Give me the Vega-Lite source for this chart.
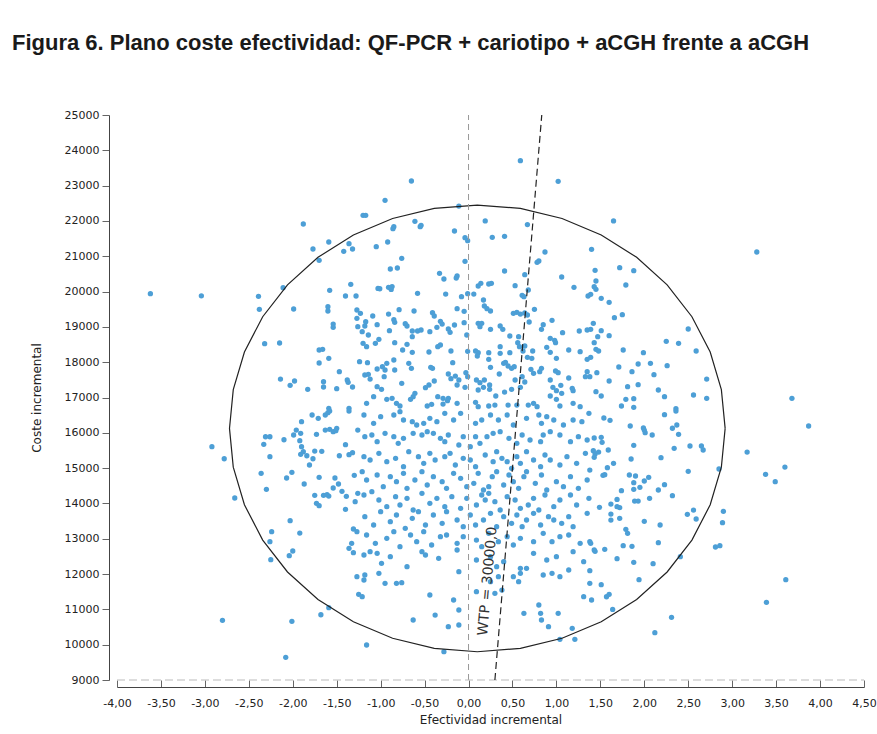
{
  "$schema": "https://vega.github.io/schema/vega-lite/v6.json",
  "width": 747,
  "height": 565,
  "autosize": {"type": "none"},
  "padding": {"left": 117, "top": 115, "right": 13, "bottom": 54},
  "background": "white",
  "title": {
    "text": "Figura 6. Plano coste efectividad: QF-PCR + cariotipo + aCGH frente a aCGH",
    "anchor": "start",
    "frame": "group",
    "dx": -105,
    "offset": 37,
    "baseline": "alphabetic",
    "font": "Liberation Sans",
    "fontSize": 22,
    "fontWeight": "bold",
    "color": "#1a1a1a"
  },
  "config": {
    "view": {"stroke": null},
    "axis": {"labelFont": "DejaVu Sans", "titleFont": "DejaVu Sans", "labelColor": "#222", "titleColor": "#222", "titleFontWeight": "normal", "domainColor": "#444", "tickColor": "#666", "grid": false}
  },
  "datasets": {
    "pts": [
{"e":-3.62,"c":19940},{"e":-3.04,"c":19880},{"e":-2.39,"c":19866},{"e":-2.38,"c":19497},{"e":-2.11,"c":20110},{"e":-1.88,"c":21913},{"e":-1.77,"c":21205},{"e":-1.70,"c":20885},{"e":-1.59,"c":21403},{"e":-1.42,"c":21140},{"e":-1.36,"c":21355},{"e":-1.32,"c":21205},{"e":-1.99,"c":19506},{"e":-1.58,"c":20035},{"e":-1.40,"c":19874},{"e":-1.34,"c":20205},{"e":-1.28,"c":19874},{"e":-1.60,"c":19571},{"e":-1.60,"c":19449},{"e":-1.27,"c":19478},{"e":-1.27,"c":19243},{"e":-1.26,"c":19005},{"e":-1.54,"c":19080},{"e":-1.54,"c":18988},{"e":-2.32,"c":18523},{"e":-2.15,"c":18543},{"e":-1.70,"c":18345},{"e":-1.66,"c":18365},{"e":-1.59,"c":18110},{"e":-1.70,"c":17977},{"e":-1.24,"c":18013},{"e":-1.47,"c":17730},{"e":-2.14,"c":17523},{"e":-1.98,"c":17467},{"e":-2.03,"c":17345},{"e":-1.83,"c":17232},{"e":-1.65,"c":17447},{"e":-1.65,"c":17297},{"e":-1.50,"c":17249},{"e":-1.38,"c":17495},{"e":-1.37,"c":17430},{"e":-1.32,"c":17297},{"e":-1.59,"c":16694},{"e":-1.36,"c":16694},
{"e":0.59,"c":23706},{"e":1.02,"c":23122},{"e":-0.65,"c":23131},{"e":-0.95,"c":22584},{"e":-1.20,"c":22160},{"e":-1.17,"c":22160},{"e":-0.11,"c":22420},{"e":-0.61,"c":21990},{"e":-0.55,"c":21837},{"e":-0.54,"c":21876},{"e":-0.85,"c":21837},{"e":-0.86,"c":21780},{"e":-0.16,"c":21715},{"e":-0.04,"c":21525},{"e":-0.01,"c":21440},{"e":0.19,"c":21999},{"e":0.27,"c":21536},{"e":0.41,"c":21565},{"e":0.67,"c":21896},{"e":-1.05,"c":21271},{"e":-0.92,"c":21403},{"e":-0.76,"c":20941},{"e":-0.89,"c":20639},{"e":-0.81,"c":20667},{"e":-0.04,"c":20857},{"e":0.41,"c":20582},{"e":0.64,"c":20478},{"e":0.80,"c":20865},{"e":0.78,"c":20828},{"e":0.87,"c":21120},{"e":1.06,"c":20412},{"e":1.20,"c":20120},{"e":1.36,"c":19874},{"e":-0.33,"c":20517},{"e":-0.28,"c":20356},{"e":-0.14,"c":20384},{"e":-0.13,"c":20441},{"e":-1.03,"c":20090},{"e":-1.01,"c":20080},{"e":-0.91,"c":20120},{"e":-0.88,"c":20060},{"e":-0.87,"c":20140},{"e":-0.58,"c":19950},{"e":-0.26,"c":19930},{"e":-0.08,"c":19855},{"e":-0.01,"c":19940},{"e":0.06,"c":19930},{"e":0.11,"c":20157},{"e":0.14,"c":20233},{"e":0.23,"c":20214},{"e":0.26,"c":20233},{"e":0.53,"c":20166},{"e":0.61,"c":19894},{"e":0.63,"c":19855},{"e":0.68,"c":20044},{"e":0.17,"c":19761},{"e":0.18,"c":19591},{"e":0.21,"c":19514},{"e":0.25,"c":19449},{"e":-0.13,"c":19514},{"e":-0.05,"c":19440},{"e":-0.41,"c":19401},{"e":-0.39,"c":19308},{"e":-0.62,"c":19449},{"e":-0.79,"c":19486},{"e":-0.91,"c":19364},{"e":-1.09,"c":19308},{"e":-1.23,"c":19384},{"e":0.51,"c":19384},{"e":0.55,"c":19412},{"e":0.59,"c":19364},{"e":0.64,"c":19393},{"e":0.67,"c":19336},{"e":0.75,"c":19497},{"e":0.69,"c":19138},{"e":0.85,"c":19062},{"e":0.83,"c":18931},{"e":0.95,"c":19185},{"e":1.07,"c":18835},{"e":0.93,"c":18675},{"e":0.98,"c":18620},{"e":0.99,"c":18552},{"e":1.26,"c":18883},{"e":1.35,"c":18911},{"e":-1.17,"c":19146},{"e":-1.18,"c":19025},{"e":-1.04,"c":19062},{"e":-0.85,"c":19203},{"e":-0.84,"c":19129},{"e":-0.72,"c":19090},{"e":-0.70,"c":19025},{"e":-0.64,"c":18883},{"e":-0.58,"c":18883},{"e":-0.44,"c":18864},{"e":-0.36,"c":18988},{"e":-0.32,"c":19158},{"e":-0.30,"c":19080},{"e":-0.23,"c":18940},{"e":-0.21,"c":18846},{"e":-0.16,"c":19053},{"e":-0.05,"c":19120},{"e":0.11,"c":19101},{"e":0.13,"c":19005},{"e":0.15,"c":19101},{"e":0.25,"c":18931},{"e":0.36,"c":19025},{"e":0.39,"c":18931},{"e":0.47,"c":18742},{"e":0.57,"c":18722},{"e":-1.21,"c":18864},{"e":-1.14,"c":18770},{"e":-1.06,"c":18535},{"e":-1.02,"c":18648},{"e":-1.20,"c":18535},{"e":-1.16,"c":18439},{"e":-0.90,"c":18893},{"e":-0.84,"c":18552},{"e":-0.75,"c":18345},{"e":-0.70,"c":18506},{"e":-0.64,"c":18279},{"e":-0.64,"c":18722},{"e":-0.54,"c":18911},{"e":-0.45,"c":18288},{"e":-0.35,"c":18439},{"e":-0.32,"c":18487},{"e":-0.20,"c":18317},{"e":-0.02,"c":18770},{"e":-0.01,"c":18308},{"e":0.08,"c":18317},{"e":0.11,"c":18269},{"e":0.10,"c":18175},{"e":0.23,"c":18269},{"e":0.23,"c":18082},{"e":0.36,"c":18439},{"e":0.36,"c":18251},{"e":0.47,"c":18269},{"e":0.56,"c":18552},{"e":0.58,"c":18439},{"e":0.62,"c":18317},{"e":0.64,"c":18458},{"e":0.67,"c":18138},{"e":0.73,"c":18317},{"e":0.72,"c":18110},{"e":0.89,"c":18420},{"e":0.93,"c":18279},{"e":1.00,"c":18110},{"e":1.14,"c":18345},{"e":1.27,"c":18297},{"e":1.35,"c":18082},{"e":-1.15,"c":17987},{"e":-1.18,"c":17637},{"e":-1.14,"c":17655},{"e":-1.12,"c":17523},{"e":-1.04,"c":17807},{"e":-0.98,"c":17873},{"e":-0.95,"c":17779},{"e":-0.93,"c":17968},{"e":-0.85,"c":18062},{"e":-0.84,"c":17779},{"e":-1.04,"c":17306},{"e":-0.99,"c":17232},{"e":-0.96,"c":17589},{"e":-1.08,"c":17022},{"e":-0.93,"c":16949},{"e":-0.87,"c":16977},{"e":-0.68,"c":17968},{"e":-0.65,"c":17827},{"e":-0.76,"c":17401},{"e":-0.63,"c":17022},{"e":-0.61,"c":17118},{"e":-0.66,"c":16949},{"e":-0.49,"c":17278},{"e":-0.45,"c":17354},{"e":-0.39,"c":17467},{"e":-0.43,"c":17855},{"e":-0.41,"c":17827},{"e":-0.23,"c":17665},{"e":-0.20,"c":17532},{"e":-0.15,"c":17608},{"e":-0.11,"c":17495},{"e":-0.13,"c":17354},{"e":-0.18,"c":17987},{"e":-0.03,"c":17702},{"e":-0.01,"c":17589},{"e":-0.04,"c":17288},{"e":-0.35,"c":17022},{"e":-0.29,"c":16977},{"e":-0.23,"c":16977},{"e":-0.13,"c":16835},{"e":0.09,"c":17495},{"e":0.13,"c":17420},{"e":0.18,"c":17495},{"e":0.11,"c":17212},{"e":0.17,"c":17288},{"e":0.24,"c":17354},{"e":0.24,"c":17232},{"e":0.25,"c":17855},{"e":0.35,"c":17665},{"e":0.40,"c":17968},{"e":0.42,"c":17997},{"e":0.45,"c":17892},{"e":0.49,"c":17827},{"e":0.52,"c":17873},{"e":0.31,"c":17042},{"e":0.41,"c":17155},{"e":0.49,"c":17232},{"e":0.53,"c":17495},{"e":0.59,"c":17288},{"e":0.61,"c":17589},{"e":0.64,"c":17439},{"e":0.71,"c":17798},{"e":0.74,"c":17685},{"e":0.83,"c":17827},{"e":0.81,"c":17730},{"e":0.93,"c":17495},{"e":0.96,"c":17288},{"e":1.00,"c":17192},{"e":1.05,"c":17345},{"e":1.06,"c":17118},{"e":0.99,"c":17750},{"e":1.02,"c":17702},{"e":1.18,"c":17260},{"e":1.19,"c":17192},{"e":1.00,"c":16949},{"e":0.93,"c":17042},{"e":1.14,"c":17552},{"e":1.33,"c":17589},{"e":1.35,"c":17730},{"e":0.74,"c":16835},{"e":0.78,"c":16740},{"e":0.68,"c":16787},{"e":0.45,"c":16787},{"e":0.55,"c":16787},{"e":0.30,"c":16787},{"e":0.23,"c":16759},{"e":0.11,"c":16740},{"e":0.08,"c":16864},{"e":-0.24,"c":16909},{"e":-0.29,"c":16815},{"e":-0.47,"c":16759},{"e":-0.42,"c":16806},{"e":-0.82,"c":16835},{"e":-0.78,"c":16759},{"e":-1.16,"c":16835},{"e":1.19,"c":16835},{"e":1.27,"c":16740},{"e":1.04,"c":16759},
{"e":1.65,"c":21999},{"e":3.28,"c":21120},{"e":1.40,"c":21196},{"e":1.72,"c":20676},{"e":1.88,"c":20591},{"e":1.44,"c":20602},{"e":1.45,"c":20299},{"e":1.43,"c":20138},{"e":1.45,"c":20064},{"e":1.39,"c":19922},{"e":1.79,"c":20186},{"e":1.51,"c":19809},{"e":1.60,"c":19695},{"e":1.66,"c":19260},{"e":1.75,"c":19345},{"e":1.42,"c":19101},{"e":1.39,"c":18931},{"e":1.51,"c":18893},{"e":1.47,"c":18722},{"e":1.60,"c":18750},{"e":1.43,"c":18552},{"e":1.45,"c":18365},{"e":1.48,"c":18317},{"e":1.39,"c":18138},{"e":1.76,"c":18345},{"e":1.99,"c":18269},{"e":2.25,"c":18591},{"e":2.39,"c":18535},{"e":2.50,"c":18940},{"e":2.59,"c":18317},{"e":1.93,"c":17949},{"e":2.07,"c":17968},{"e":2.26,"c":17900},{"e":1.71,"c":17864},{"e":1.86,"c":17730},{"e":2.11,"c":17645},{"e":1.46,"c":17702},{"e":1.38,"c":17589},{"e":1.60,"c":17467},{"e":1.81,"c":17306},{"e":1.93,"c":17362},{"e":2.16,"c":17212},{"e":2.23,"c":17022},{"e":2.71,"c":17523},{"e":2.71,"c":16977},{"e":2.56,"c":17071},{"e":1.45,"c":17165},{"e":1.51,"c":17042},{"e":1.79,"c":16949},{"e":1.88,"c":16966},{"e":1.74,"c":16759},{"e":1.88,"c":16722},{"e":2.36,"c":16683},{"e":3.68,"c":16977},
{"e":3.87,"c":16193},{"e":3.17,"c":15456},{"e":3.60,"c":15031},{"e":3.38,"c":14824},{"e":3.49,"c":14616},{"e":2.85,"c":14975},{"e":2.90,"c":13777},{"e":2.89,"c":13454},{"e":2.81,"c":12766},{"e":2.86,"c":12803},{"e":2.41,"c":12491},{"e":3.61,"c":11840},{"e":3.39,"c":11200},{"e":2.31,"c":10775},{"e":2.12,"c":10340},{"e":1.54,"c":16420},{"e":1.61,"c":16354},{"e":1.84,"c":16193},{"e":1.99,"c":16136},{"e":2.01,"c":16003},{"e":2.09,"c":15938},{"e":2.00,"c":16079},{"e":2.23,"c":16513},{"e":2.36,"c":16617},{"e":2.32,"c":16129},{"e":2.37,"c":16221},{"e":2.39,"c":15957},{"e":2.52,"c":15626},{"e":2.65,"c":15626},{"e":2.67,"c":15513},{"e":2.34,"c":15561},{"e":2.19,"c":15297},{"e":2.50,"c":14910},{"e":1.43,"c":15853},{"e":1.51,"c":15872},{"e":1.52,"c":15731},{"e":1.42,"c":15493},{"e":1.44,"c":15400},{"e":1.48,"c":15456},{"e":1.43,"c":15306},{"e":1.59,"c":15513},{"e":1.88,"c":15646},{"e":1.85,"c":15259},{"e":1.65,"c":15136},{"e":1.58,"c":15012},{"e":1.38,"c":14946},{"e":1.53,"c":14796},{"e":1.55,"c":14814},{"e":1.83,"c":14805},{"e":1.90,"c":14777},{"e":1.88,"c":14588},{"e":1.88,"c":14400},{"e":1.95,"c":14457},{"e":2.00,"c":14635},{"e":2.05,"c":14739},{"e":1.74,"c":14361},{"e":2.16,"c":14380},{"e":2.23,"c":14530},{"e":2.32,"c":14219},{"e":2.06,"c":14144},{"e":1.89,"c":14068},{"e":1.93,"c":14068},{"e":1.69,"c":14115},{"e":1.62,"c":13983},{"e":1.69,"c":13907},{"e":1.72,"c":13879},{"e":1.49,"c":13889},{"e":1.62,"c":13700},{"e":1.62,"c":13530},{"e":1.72,"c":13578},{"e":2.00,"c":13493},{"e":2.18,"c":13389},{"e":2.49,"c":13691},{"e":2.56,"c":13813},{"e":2.59,"c":13559},{"e":1.79,"c":13267},{"e":1.81,"c":13154},{"e":1.39,"c":12871},{"e":1.43,"c":12681},{"e":1.44,"c":12644},{"e":1.55,"c":12700},{"e":1.76,"c":12803},{"e":1.86,"c":12785},{"e":2.16,"c":12888},{"e":1.69,"c":12435},{"e":1.88,"c":12333},{"e":2.10,"c":12293},{"e":1.38,"c":12096},{"e":1.51,"c":11700},{"e":1.40,"c":11265},{"e":1.57,"c":11358},{"e":1.60,"c":11426},{"e":1.94,"c":11842},{"e":1.64,"c":11000},
{"e":-2.92,"c":15606},{"e":-2.78,"c":15266},{"e":-2.66,"c":14154},{"e":-2.36,"c":14853},{"e":-2.30,"c":14400},{"e":-2.33,"c":15674},{"e":-2.31,"c":15889},{"e":-2.26,"c":15889},{"e":-2.26,"c":15323},{"e":-2.10,"c":15804},{"e":-2.07,"c":14720},{"e":-2.01,"c":14881},{"e":-1.87,"c":14550},{"e":-1.99,"c":15938},{"e":-1.96,"c":16079},{"e":-1.91,"c":15986},{"e":-1.92,"c":15776},{"e":-1.90,"c":15606},{"e":-1.88,"c":15465},{"e":-1.84,"c":15351},{"e":-1.91,"c":15391},{"e":-1.77,"c":15266},{"e":-1.81,"c":15088},{"e":-1.90,"c":16315},{"e":-1.78,"c":16504},{"e":-1.71,"c":16410},{"e":-1.63,"c":16504},{"e":-1.60,"c":16569},{"e":-1.58,"c":16617},{"e":-1.73,"c":15957},{"e":-1.63,"c":16079},{"e":-1.58,"c":16098},{"e":-1.54,"c":16032},{"e":-1.50,"c":16127},{"e":-1.51,"c":16060},{"e":-1.75,"c":15484},{"e":-1.67,"c":15476},{"e":-1.70,"c":14739},{"e":-1.52,"c":14720},{"e":-1.48,"c":14550},{"e":-1.54,"c":14437},{"e":-1.44,"c":14343},{"e":-1.39,"c":14202},{"e":-1.75,"c":14230},{"e":-1.65,"c":14230},{"e":-1.61,"c":14248},{"e":-1.59,"c":14210},{"e":-1.73,"c":14003},{"e":-1.70,"c":13936},{"e":-1.40,"c":13834},{"e":-1.47,"c":15351},{"e":-1.36,"c":15380},{"e":-1.32,"c":15436},{"e":-1.40,"c":15663},{"e":-1.30,"c":14796},{"e":-1.29,"c":14049},{"e":-1.26,"c":14286},{"e":-1.36,"c":16617},{"e":-1.26,"c":16079},{"e":-2.03,"c":13511},{"e":-1.92,"c":13162},{"e":-2.24,"c":13200},{"e":-2.26,"c":12916},{"e":-2.25,"c":12407},{"e":-2.04,"c":12520},{"e":-2.00,"c":12653},{"e":-1.31,"c":13276},{"e":-1.27,"c":13200},{"e":-1.33,"c":12871},{"e":-1.36,"c":12729},{"e":-1.31,"c":12605},{"e":-1.27,"c":11927},{"e":-1.25,"c":11426},{"e":-1.59,"c":11048},{"e":-1.68,"c":10848},{"e":-2.80,"c":10690},{"e":-2.01,"c":10662},{"e":-2.08,"c":9642},
{"e":-1.19,"c":16504},{"e":-1.08,"c":16268},{"e":-1.00,"c":16457},{"e":-0.85,"c":16504},{"e":-0.78,"c":16599},{"e":-0.74,"c":16363},{"e":-0.64,"c":16316},{"e":-0.59,"c":16221},{"e":-0.51,"c":16268},{"e":-0.44,"c":16410},{"e":-0.36,"c":16316},{"e":-0.27,"c":16552},{"e":-0.17,"c":16363},{"e":-0.09,"c":16552},{"e":0.08,"c":16268},{"e":0.15,"c":16363},{"e":0.25,"c":16504},{"e":0.34,"c":16363},{"e":0.44,"c":16504},{"e":0.51,"c":16221},{"e":0.66,"c":16410},{"e":0.80,"c":16504},{"e":0.83,"c":16268},{"e":0.89,"c":16457},{"e":0.97,"c":16363},{"e":1.08,"c":16221},{"e":1.19,"c":16363},{"e":1.29,"c":16316},{"e":1.37,"c":16552},
{"e":-1.18,"c":15891},{"e":-1.10,"c":15938},{"e":-1.04,"c":15749},{"e":-0.95,"c":15985},{"e":-0.85,"c":15891},{"e":-0.80,"c":15702},{"e":-0.74,"c":15844},{"e":-0.63,"c":15985},{"e":-0.53,"c":15938},{"e":-0.47,"c":16032},{"e":-0.40,"c":15985},{"e":-0.32,"c":15844},{"e":-0.27,"c":15749},{"e":-0.23,"c":15938},{"e":-0.11,"c":15655},{"e":-0.06,"c":15891},{"e":0.02,"c":15608},{"e":0.08,"c":15891},{"e":0.13,"c":15702},{"e":0.21,"c":15891},{"e":0.28,"c":15985},{"e":0.36,"c":16032},{"e":0.46,"c":15844},{"e":0.55,"c":15702},{"e":0.61,"c":15938},{"e":0.70,"c":15796},{"e":0.82,"c":15749},{"e":0.85,"c":15938},{"e":0.93,"c":16032},{"e":1.04,"c":15938},{"e":1.16,"c":15749},{"e":1.25,"c":15891},{"e":1.35,"c":15796},
{"e":-1.19,"c":15324},{"e":-1.12,"c":15230},{"e":-1.02,"c":15419},{"e":-0.93,"c":15183},{"e":-0.83,"c":15277},{"e":-0.74,"c":15041},{"e":-0.68,"c":15466},{"e":-0.57,"c":15324},{"e":-0.51,"c":15136},{"e":-0.44,"c":15419},{"e":-0.38,"c":15230},{"e":-0.27,"c":15324},{"e":-0.21,"c":15419},{"e":-0.15,"c":15088},{"e":-0.06,"c":15277},{"e":0.02,"c":15230},{"e":0.08,"c":15041},{"e":0.19,"c":15372},{"e":0.28,"c":15183},{"e":0.32,"c":15466},{"e":0.38,"c":15277},{"e":0.44,"c":15183},{"e":0.49,"c":14994},{"e":0.55,"c":15324},{"e":0.59,"c":15136},{"e":0.66,"c":15466},{"e":0.74,"c":15230},{"e":0.82,"c":15041},{"e":0.87,"c":15372},{"e":0.93,"c":15230},{"e":1.04,"c":15088},{"e":1.12,"c":15324},{"e":1.23,"c":15136},{"e":1.33,"c":15419},
{"e":-1.21,"c":14900},{"e":-1.16,"c":14664},{"e":-1.04,"c":14805},{"e":-0.97,"c":14475},{"e":-0.89,"c":14758},{"e":-0.82,"c":14616},{"e":-0.74,"c":14852},{"e":-0.70,"c":14428},{"e":-0.61,"c":14664},{"e":-0.53,"c":14900},{"e":-0.47,"c":14522},{"e":-0.40,"c":14758},{"e":-0.30,"c":14616},{"e":-0.25,"c":14428},{"e":-0.17,"c":14852},{"e":-0.09,"c":14711},{"e":-0.02,"c":14475},{"e":0.06,"c":14569},{"e":0.11,"c":14852},{"e":0.17,"c":14380},{"e":0.23,"c":14475},{"e":0.27,"c":14758},{"e":0.32,"c":14900},{"e":0.40,"c":14522},{"e":0.46,"c":14805},{"e":0.51,"c":14616},{"e":0.57,"c":14428},{"e":0.63,"c":14758},{"e":0.66,"c":14900},{"e":0.76,"c":14569},{"e":0.83,"c":14805},{"e":0.89,"c":14380},{"e":1.00,"c":14616},{"e":1.08,"c":14475},{"e":1.16,"c":14758},{"e":1.25,"c":14428},{"e":1.35,"c":14664},
{"e":-1.19,"c":14239},{"e":-1.10,"c":14333},{"e":-1.02,"c":14097},{"e":-0.93,"c":13908},{"e":-0.83,"c":14192},{"e":-0.78,"c":13956},{"e":-0.70,"c":14144},{"e":-0.63,"c":13814},{"e":-0.53,"c":14286},{"e":-0.44,"c":14003},{"e":-0.36,"c":14144},{"e":-0.27,"c":13908},{"e":-0.19,"c":14192},{"e":-0.09,"c":13861},{"e":-0.02,"c":14144},{"e":0.09,"c":13956},{"e":0.15,"c":14239},{"e":0.19,"c":14097},{"e":0.23,"c":14286},{"e":0.30,"c":14050},{"e":0.36,"c":13814},{"e":0.44,"c":14192},{"e":0.53,"c":14097},{"e":0.59,"c":13861},{"e":0.68,"c":13956},{"e":0.74,"c":14144},{"e":0.80,"c":13814},{"e":0.87,"c":14239},{"e":0.97,"c":13908},{"e":1.04,"c":14097},{"e":1.16,"c":14239},{"e":1.23,"c":13956},{"e":1.37,"c":14144},
{"e":-1.18,"c":13625},{"e":-1.08,"c":13389},{"e":-1.00,"c":13767},{"e":-0.89,"c":13484},{"e":-0.82,"c":13672},{"e":-0.72,"c":13295},{"e":-0.64,"c":13578},{"e":-0.57,"c":13767},{"e":-0.49,"c":13389},{"e":-0.40,"c":13672},{"e":-0.30,"c":13436},{"e":-0.25,"c":13767},{"e":-0.13,"c":13531},{"e":-0.06,"c":13342},{"e":0.02,"c":13672},{"e":0.08,"c":13389},{"e":0.17,"c":13531},{"e":0.25,"c":13720},{"e":0.32,"c":13342},{"e":0.40,"c":13625},{"e":0.49,"c":13436},{"e":0.55,"c":13672},{"e":0.61,"c":13342},{"e":0.66,"c":13531},{"e":0.74,"c":13720},{"e":0.82,"c":13389},{"e":0.91,"c":13625},{"e":0.97,"c":13531},{"e":1.06,"c":13436},{"e":1.14,"c":13625},{"e":1.19,"c":13342},{"e":1.35,"c":13720},
{"e":-1.16,"c":13106},{"e":-1.06,"c":12870},{"e":-0.93,"c":13012},{"e":-0.85,"c":13200},{"e":-0.78,"c":12776},{"e":-0.66,"c":13106},{"e":-0.59,"c":12917},{"e":-0.51,"c":13200},{"e":-0.42,"c":12823},{"e":-0.32,"c":13059},{"e":-0.25,"c":13106},{"e":-0.13,"c":12870},{"e":-0.06,"c":13059},{"e":0.09,"c":12964},{"e":0.15,"c":12776},{"e":0.23,"c":13153},{"e":0.34,"c":12917},{"e":0.44,"c":13059},{"e":0.51,"c":12823},{"e":0.59,"c":13012},{"e":0.74,"c":12917},{"e":0.85,"c":13153},{"e":0.95,"c":12917},{"e":1.04,"c":13059},{"e":1.14,"c":13106},{"e":1.27,"c":12870},{"e":1.38,"c":12917},
{"e":-1.19,"c":12540},{"e":-1.12,"c":12634},{"e":-1.04,"c":12587},{"e":-0.99,"c":12304},{"e":-0.89,"c":12492},{"e":-0.70,"c":12209},{"e":-0.53,"c":12634},{"e":-0.49,"c":12540},{"e":-0.34,"c":12445},{"e":-0.13,"c":12681},{"e":0.09,"c":12398},{"e":0.25,"c":12492},{"e":0.32,"c":12209},{"e":0.40,"c":12351},{"e":0.59,"c":12162},{"e":0.74,"c":12587},{"e":0.89,"c":12398},{"e":1.00,"c":12492},{"e":1.19,"c":12634},{"e":1.31,"c":12351},
{"e":-1.18,"c":11973},{"e":-1.19,"c":11832},{"e":-1.02,"c":12020},{"e":-0.95,"c":11737},{"e":-0.82,"c":11737},{"e":-0.76,"c":11756},{"e":-0.44,"c":11407},{"e":-0.11,"c":12068},{"e":0.09,"c":11501},{"e":0.25,"c":11784},{"e":0.34,"c":11926},{"e":0.38,"c":11548},{"e":0.51,"c":11926},{"e":0.57,"c":11784},{"e":0.59,"c":12020},{"e":0.66,"c":12162},{"e":0.85,"c":11973},{"e":0.95,"c":12020},{"e":1.04,"c":11926},{"e":1.14,"c":12115},{"e":1.31,"c":11360},{"e":1.38,"c":11737},
{"e":-1.21,"c":11360},{"e":-0.63,"c":10699},{"e":-0.38,"c":10840},{"e":-0.23,"c":10510},{"e":-0.17,"c":11265},{"e":-0.11,"c":10982},{"e":-0.11,"c":10557},{"e":0.30,"c":11454},{"e":0.63,"c":10888},{"e":0.80,"c":11124},{"e":0.82,"c":10888},{"e":0.83,"c":10699},{"e":0.91,"c":10510},{"e":1.02,"c":10888},{"e":1.18,"c":10463},
{"e":-1.16,"c":9991},{"e":-0.28,"c":9802},{"e":1.04,"c":10151},{"e":1.21,"c":10151}
    ],
    "ell": [
{"o":0,"e":2.92,"c":16125},{"o":1,"e":2.877,"c":17223},{"o":2,"e":2.75,"c":18288},{"o":3,"e":2.542,"c":19288},{"o":4,"e":2.26,"c":20191},{"o":5,"e":1.913,"c":20970},{"o":6,"e":1.51,"c":21602},{"o":7,"e":1.064,"c":22069},{"o":8,"e":0.59,"c":22354},{"o":9,"e":0.10,"c":22450},{"o":10,"e":-0.39,"c":22354},{"o":11,"e":-0.864,"c":22069},{"o":12,"e":-1.31,"c":21602},{"o":13,"e":-1.713,"c":20970},{"o":14,"e":-2.06,"c":20191},{"o":15,"e":-2.342,"c":19288},{"o":16,"e":-2.55,"c":18288},{"o":17,"e":-2.677,"c":17223},{"o":18,"e":-2.72,"c":16125},{"o":19,"e":-2.677,"c":15027},{"o":20,"e":-2.55,"c":13962},{"o":21,"e":-2.342,"c":12962},{"o":22,"e":-2.06,"c":12059},{"o":23,"e":-1.713,"c":11280},{"o":24,"e":-1.31,"c":10648},{"o":25,"e":-0.864,"c":10181},{"o":26,"e":-0.39,"c":9896},{"o":27,"e":0.10,"c":9800},{"o":28,"e":0.59,"c":9896},{"o":29,"e":1.064,"c":10181},{"o":30,"e":1.51,"c":10648},{"o":31,"e":1.913,"c":11280},{"o":32,"e":2.26,"c":12059},{"o":33,"e":2.542,"c":12962},{"o":34,"e":2.75,"c":13962},{"o":35,"e":2.877,"c":15027},{"o":36,"e":2.92,"c":16125}
    ]
  },
  "encoding": {
    "x": {
      "field": "e", "type": "quantitative",
      "scale": {"domain": [-4, 4.5], "nice": false, "zero": false},
      "axis": {
        "title": "Efectividad incremental",
        "values": [-4, -3.5, -3, -2.5, -2, -1.5, -1, -0.5, 0, 0.5, 1, 1.5, 2, 2.5, 3, 3.5, 4, 4.5],
        "labelExpr": "replace(replace(format(datum.value, '.2f'), '.', ','), '\u2212', '-')",
        "offset": 7, "tickSize": -7, "labelPadding": 17, "labelFontSize": 11,
        "titleFontSize": 12, "titlePadding": 6, "labelFlush": false
      }
    },
    "y": {
      "field": "c", "type": "quantitative",
      "scale": {"domain": [9000, 25000], "nice": false, "zero": false},
      "axis": {
        "title": "Coste incremental",
        "values": [9000, 10000, 11000, 12000, 13000, 14000, 15000, 16000, 17000, 18000, 19000, 20000, 21000, 22000, 23000, 24000, 25000],
        "format": "d",
        "offset": 8, "tickSize": 7, "labelPadding": 3, "labelFontSize": 11,
        "titleFontSize": 12, "titlePadding": 21, "labelFlush": false
      }
    }
  },
  "layer": [
    {"data": {"name": "pts"}, "mark": {"type": "circle", "size": 28, "opacity": 1, "color": "#4d9fd6"}},
    {"data": {"name": "ell"}, "mark": {"type": "line", "color": "#222", "strokeWidth": 1.2}, "encoding": {"order": {"field": "o", "type": "quantitative"}}},
    {"data": {"values": [{"e": 0, "c": 9000, "c2": 25000}]}, "mark": {"type": "rule", "color": "#999", "strokeDash": [6, 4], "strokeWidth": 1}, "encoding": {"y2": {"field": "c2"}}},
    {"data": {"values": [{"e": -4, "e2": 4.5, "c": 9000}]}, "mark": {"type": "rule", "color": "#bbb", "strokeDash": [8, 4], "strokeWidth": 1}, "encoding": {"x2": {"field": "e2"}}},
    {"data": {"values": [{"e": 0.3, "c": 9000, "e2": 0.8333, "c2": 25000}]}, "mark": {"type": "rule", "color": "#222", "strokeDash": [7, 4], "strokeWidth": 1.2}, "encoding": {"x2": {"field": "e2"}, "y2": {"field": "c2"}}},
    {"data": {"values": [{"e": 0.22, "c": 11800, "t": "WTP = 30000,0"}]}, "mark": {"type": "text", "angle": -85, "font": "DejaVu Sans", "fontSize": 14, "color": "#333"}, "encoding": {"text": {"field": "t"}}}
  ]
}
